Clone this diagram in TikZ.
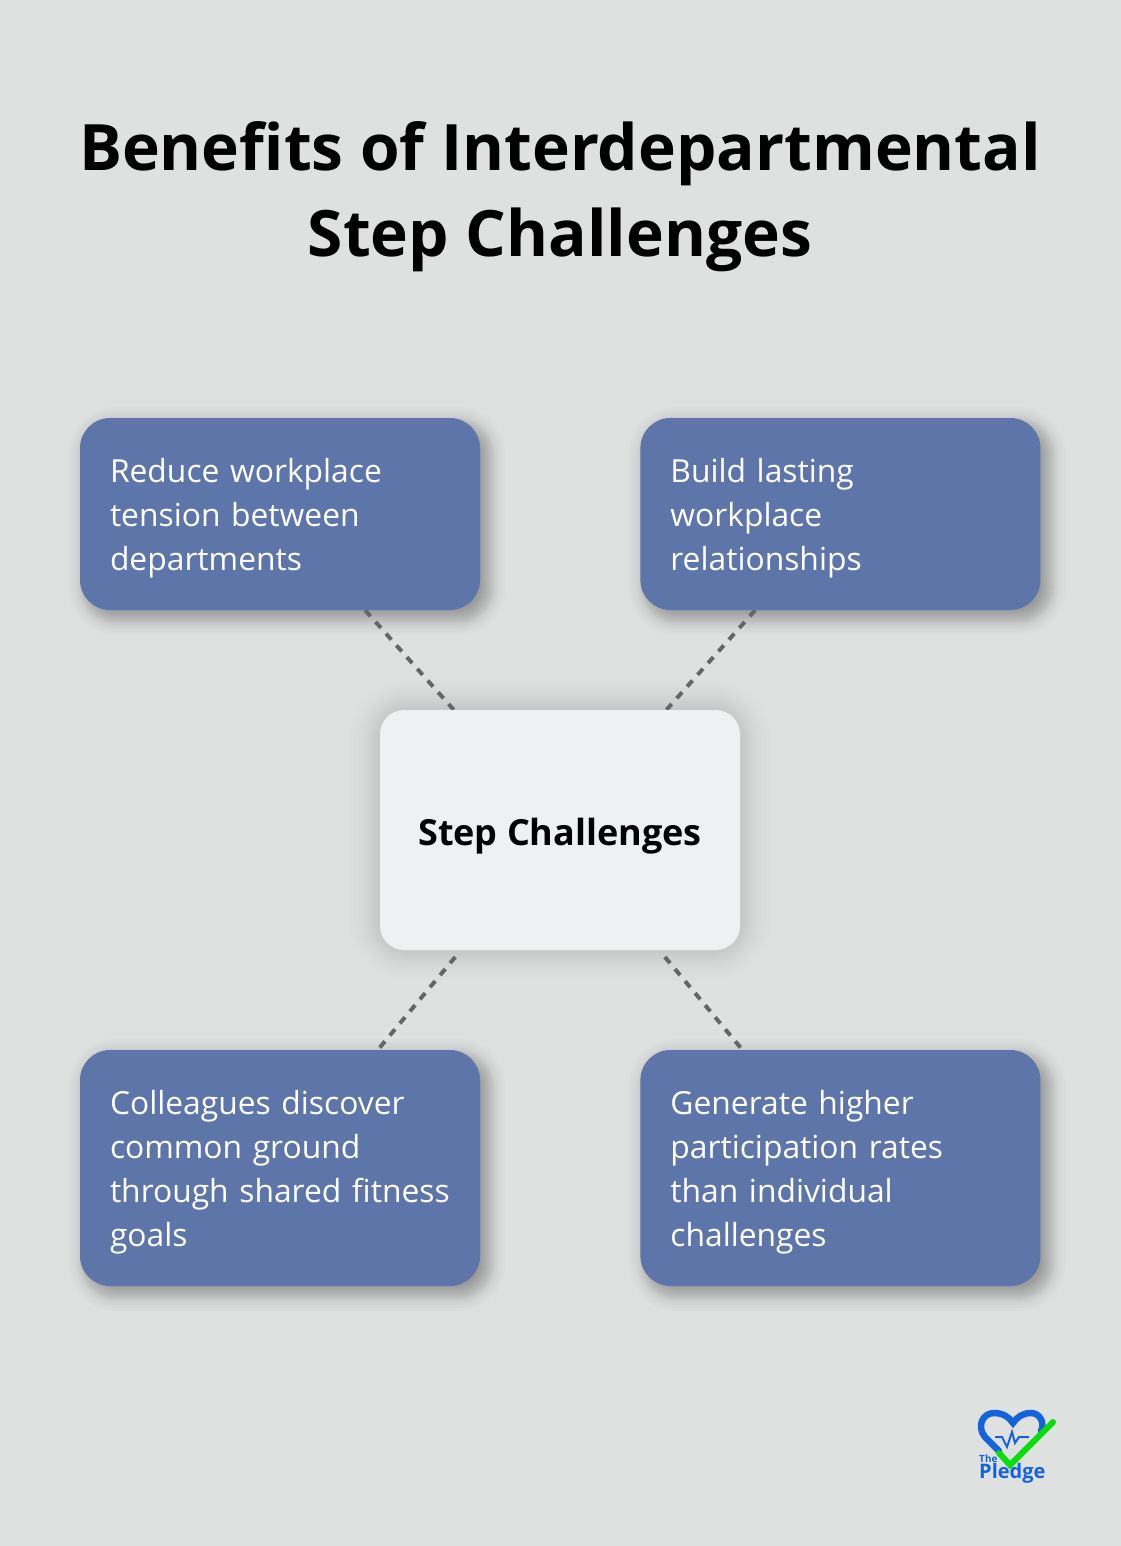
\documentclass[tikz,border=0pt]{standalone}
\usepackage{fontspec}
\setmainfont{Open Sans}
\usetikzlibrary{positioning,backgrounds}
\definecolor{pagegray}{HTML}{DFE1E0}
\definecolor{boxblue}{HTML}{5D75A8}
\definecolor{corewhite}{HTML}{EFF0F2}
\definecolor{dashgray}{HTML}{666666}
\definecolor{logoblue}{HTML}{1463DB}
\definecolor{logogreen}{HTML}{0BDC0B}
% soft shadow: stacked see-through copies of the box
\newcommand{\softshadow}[4]{%
  \foreach \g in #4
    \fill[black, opacity=#3, rounded corners=30pt+\g*1pt]
      ([shift={(#2pt-\g*1pt,-#2pt-\g*1pt)}]#1.south west) rectangle
      ([shift={(#2pt+\g*1pt,-#2pt+\g*1pt)}]#1.north east);
}
\newcommand{\leafspread}{-9,-7,-6,-5,-4,-3,-2,-1,0,1,2,3,4,5,6,7,8,10,12,15,18}
\newcommand{\corespread}{2,4,6,8,10,12,14,16,19,22,26,30}
\begin{document}
\begin{tikzpicture}[x=1pt, y=-1pt]
		\tikzstyle{leaf}=[rectangle, rounded corners=30pt, fill=boxblue, text=white, text width=340pt, inner sep=0pt, inner xsep=30pt, align=left, font=\fontsize{31.8}{44}\selectfont, execute at begin node={\rule{0pt}{32.5pt}}]
		\tikzstyle{core}=[rectangle, rounded corners=24pt, fill=corewhite, minimum width=360pt, minimum height=240pt, text height=31.4pt, text depth=0pt, font=\fontsize{36}{48}\selectfont\bfseries]
		\tikzstyle{connect}=[draw=dashgray, line width=4pt, dash pattern=on 8pt off 7.7pt]
		\path[use as bounding box] (0,0) rectangle (1120,1546);
		\node[align=center, font=\fontsize{64}{86}\selectfont\bfseries] (title) at (560,197) {Benefits of Interdepartmental\\Step Challenges};
		\node[core] (steps) at (560,830) {Step Challenges};
		\node[leaf, minimum height=192pt] (reduce) at (280,514) {Reduce workplace\\tension between\\departments};
		\node[leaf, minimum height=192pt] (build) [right=160pt of reduce] {Build lasting\\workplace\\relationships};
		\node[leaf, minimum height=236pt] (discover) at (280,1168) {Colleagues discover\\common ground\\\mbox{through shared fitness}\\goals};
		\node[leaf, minimum height=236pt] (generate) [right=160pt of discover] {Generate higher\\participation rates\\than individual\\challenges};
		\begin{pgfonlayer}{background}
			\fill[pagegray] (-3,-3) rectangle (1123,1549);
			\softshadow{steps}{0}{0.007}{\corespread}
			\softshadow{reduce}{7}{0.015}{\leafspread}
			\softshadow{build}{7}{0.015}{\leafspread}
			\softshadow{discover}{7}{0.015}{\leafspread}
			\softshadow{generate}{7}{0.015}{\leafspread}
			\path
			(reduce) edge [connect] (steps)
			(build) edge [connect] (steps)
			(discover) edge [connect, shorten <=3pt, shorten >=3pt] (steps)
			(generate) edge [connect, shorten <=3pt, shorten >=3pt] (steps)
			;
		\end{pgfonlayer}
		% logo
		\draw[logoblue, line width=6.5pt, line cap=round] (999,1451) -- (985,1437) .. controls (976,1426) and (983,1413) .. (994,1413) .. controls (1003,1413) and (1009,1417) .. (1013,1423) .. controls (1017,1417) and (1023,1413) .. (1031,1413) .. controls (1040,1413) and (1045,1423) .. (1041,1431);
		\draw[logoblue, line width=2pt] (995,1437) -- (1002,1437) -- (1007,1447) -- (1012,1432) -- (1015,1443) -- (1019,1437) -- (1029,1437);
		\draw[logogreen, line width=6pt, line cap=round] (999,1453) -- (1010,1465) -- (1053,1422);
		\node[logoblue, anchor=west, inner sep=0pt, font=\fontsize{10}{10}\selectfont\bfseries] (the) at (979,1459) {The};
		\node[logoblue, anchor=west, inner sep=0pt, font=\fontsize{20}{20}\selectfont\bfseries] (pledge) at (979,1473) {Pledge};
	\end{tikzpicture}
\end{document}
